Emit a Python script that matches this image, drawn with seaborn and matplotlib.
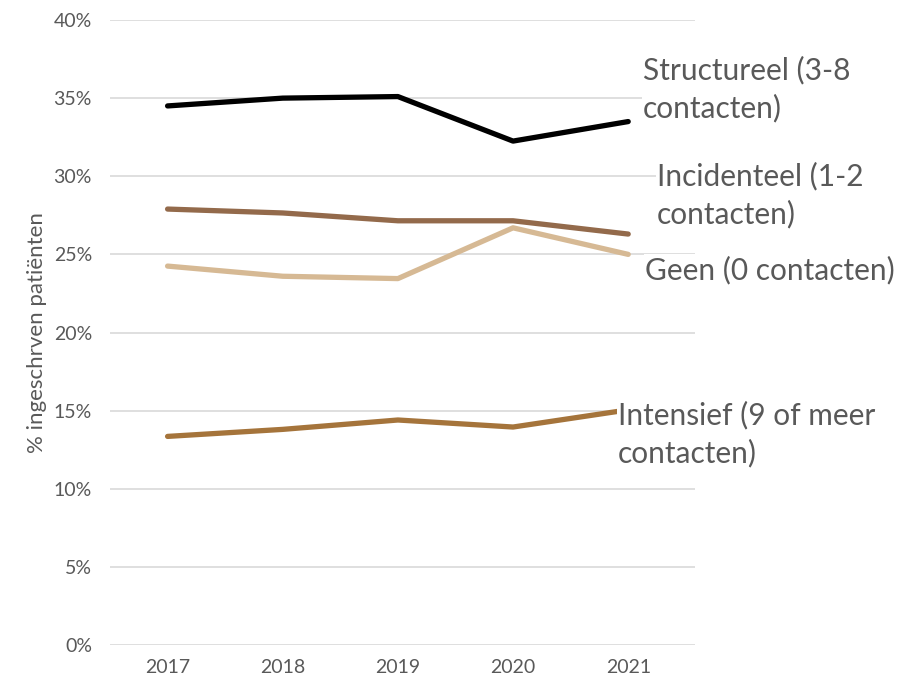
import matplotlib
matplotlib.use('Agg')
import matplotlib.pyplot as plt
import seaborn as sns
import pandas as pd
from matplotlib.ticker import PercentFormatter

years = ['2017', '2018', '2019', '2020', '2021']
structureel = [34.5, 35.0, 35.1, 32.25, 33.5]
incidenteel = [27.9, 27.65, 27.15, 27.15, 26.3]
geen = [24.25, 23.6, 23.45, 26.7, 25.0]
intensief = [13.35, 13.8, 14.4, 13.95, 15.05]

series_names = ['Structureel (3-8\ncontacten)', 'Incidenteel (1-2\ncontacten)',
                'Geen (0 contacten)', 'Intensief (9 of meer\ncontacten)']
colors = ['#000000', '#936a4b', '#d6b994', '#a5743b']

df = pd.DataFrame({'jaar': years * 4,
                   'waarde': structureel + incidenteel + geen + intensief,
                   'groep': [n for n in series_names for _ in years]})

sns.set_theme(style='white')
plt.rcParams['font.family'] = ['Lato', 'DejaVu Sans']
grey = '#595959'

fig = plt.figure(figsize=(9.07, 6.87), dpi=100)
ax = fig.add_axes([110 / 907, 42 / 687, 585 / 907, 625 / 687])

sns.lineplot(data=df, x='jaar', y='waarde', hue='groep', palette=colors,
             hue_order=series_names, linewidth=3.8, legend=False, ax=ax,
             solid_capstyle='round')

ax.set_ylim(0, 40)
ax.set_xlim(-0.5, 4.58)
ax.set_yticks(range(0, 41, 5))
ax.yaxis.set_major_formatter(PercentFormatter(decimals=0))
ax.grid(axis='y', color='#d9d9d9', linewidth=1.2)
ax.set_axisbelow(True)
for s in ax.spines.values():
    s.set_visible(False)
ax.tick_params(axis='both', length=0, labelsize=14, labelcolor=grey, pad=10)
ax.tick_params(axis='y', pad=13)
ax.set_xlabel('')
ax.set_ylabel('% ingeschrven patiënten', fontsize=16, color=grey, labelpad=5)

# labels at the line ends, white box covers the gridlines
label_pos = [(643, 89), (657, 195), (645, 270), (618, 434)]
for name, (px, py) in zip(series_names, label_pos):
    fig.text(px / 907, 1 - py / 687, name, fontsize=21.5, color=grey,
             ha='left', va='center', linespacing=1.38,
             bbox=dict(facecolor='white', edgecolor='none', pad=1))

fig.savefig('out.png', dpi=100)
